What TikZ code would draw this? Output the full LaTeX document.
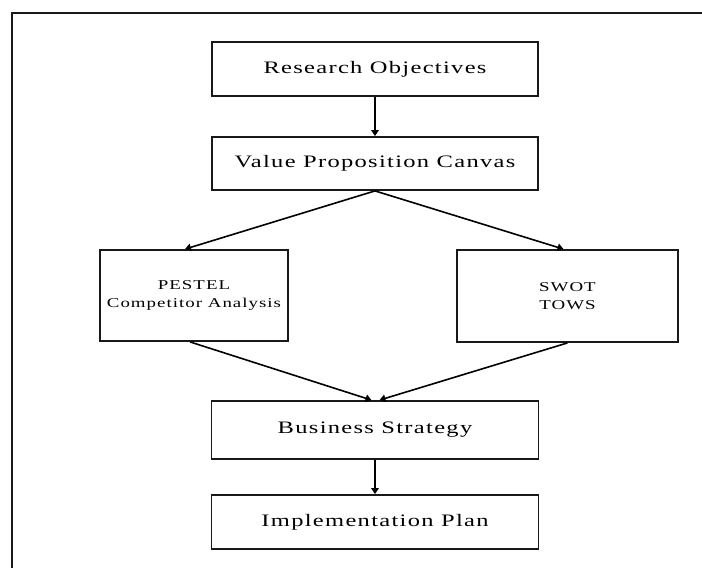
\documentclass[tikz,border=0pt]{standalone}
\usepackage{fontspec}
\setmainfont{Liberation Serif}
\newfontfamily\boxfont[FakeStretch=1.4,LetterSpace=7.5]{Liberation Serif}
\usetikzlibrary{arrows.meta}
\begin{document}
\begin{tikzpicture}[x=1pt,y=-1pt,
  box/.style={draw=black!90,line width=1.8pt,rectangle,align=center,inner sep=0pt},
  bigtext/.style={font=\boxfont\fontsize{17.5}{20}\selectfont},
  smalltext/.style={font=\boxfont\fontsize{13.5}{17.5}\selectfont},
  flow/.style={draw=black,line width=1.6pt,-{Triangle[length=6pt,width=7.5pt]}}]
  \useasboundingbox (0,0) rectangle (702,568);
  % open frame: top and left edges only
  \draw[line width=2pt,black!90] (12,568) -- (12,13) -- (702,13);

  \node[box,bigtext,minimum width=326pt,minimum height=54pt] (ro) at (375,69) {Research Objectives};
  \node[box,bigtext,minimum width=326pt,minimum height=53pt] (vpc) at (375,163.5) {Value Proposition Canvas};
  \node[box,smalltext,minimum width=188pt,minimum height=91pt] (pest) at (194,295.5) {PESTEL\\Competitor Analysis};
  \node[box,smalltext,minimum width=221pt,minimum height=92pt] (swot) at (567.5,296) {SWOT\\TOWS};
  \node[box,bigtext,minimum width=327pt,minimum height=58pt] (bs) at (375,430) {Business Strategy};
  \node[box,bigtext,minimum width=327pt,minimum height=54pt] (ip) at (375,522) {Implementation Plan};

  \draw[flow] (ro.south) -- (vpc.north);
  \draw[flow] (vpc.south) -- ([xshift=-9pt]pest.north);
  \draw[flow] (vpc.south) -- ([xshift=-4pt]swot.north);
  \draw[flow] ([xshift=-4pt]pest.south) -- ([xshift=-3.5pt]bs.north);
  \draw[flow] (swot.south) -- ([xshift=4.5pt]bs.north);
  \draw[flow] (bs.south) -- (ip.north);
\end{tikzpicture}
\end{document}
